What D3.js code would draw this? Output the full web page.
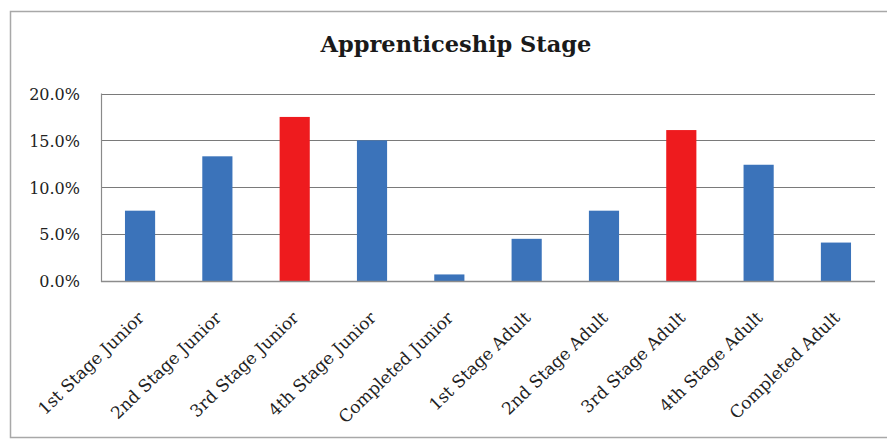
<!DOCTYPE html>
<html>
<head>
<meta charset="utf-8">
<script src="https://cdn.jsdelivr.net/npm/d3@7"></script>
<style>
  html, body { margin: 0; padding: 0; background: #fff; }
  svg { display: block; }
</style>
</head>
<body>
<svg id="chart" width="887" height="444"></svg>
<script>
// Share of apprentices at each stage
const categories = [
  "1st Stage Junior", "2nd Stage Junior", "3rd Stage Junior", "4th Stage Junior", "Completed Junior",
  "1st Stage Adult", "2nd Stage Adult", "3rd Stage Adult", "4th Stage Adult", "Completed Adult"
];
const values = [0.075, 0.133, 0.175, 0.150, 0.007, 0.045, 0.075, 0.161, 0.124, 0.041];
const highlighted = ["3rd Stage Junior", "3rd Stage Adult"];
const yTicks = [0, 0.05, 0.10, 0.15, 0.20];
const title = "Apprenticeship Stage";

const svg = d3.select("#chart");
const W = 887, H = 444;
const plot = { left: 101, right: 875, top: 93.5, bottom: 281 };
const serif = "'DejaVu Serif', 'Liberation Serif', serif";

// outer frame of the chart object
svg.append("rect")
  .attr("x", 10.5).attr("y", 11.5)
  .attr("width", W + 20).attr("height", 426)
  .attr("fill", "#fff")
  .attr("stroke", "#a8a8a8").attr("stroke-width", 1.5);

const x = d3.scaleBand()
  .domain(categories)
  .range([plot.left, plot.right])
  .paddingInner(0.61).paddingOuter(0.31);

const y = d3.scaleLinear()
  .domain([0, 0.20])
  .range([plot.bottom, plot.top]);

// horizontal gridlines
svg.append("g")
  .selectAll("line")
  .data(yTicks)
  .join("line")
  .attr("x1", plot.left).attr("x2", plot.right)
  .attr("y1", d => Math.round(y(d)) + 0.5).attr("y2", d => Math.round(y(d)) + 0.5)
  .attr("stroke", "#7a7a7a").attr("stroke-width", 1.2);

// vertical axis line
svg.append("line")
  .attr("x1", plot.left + 0.5).attr("x2", plot.left + 0.5)
  .attr("y1", plot.top).attr("y2", plot.bottom + 1)
  .attr("stroke", "#8a8a8a").attr("stroke-width", 1.2);

// bars
svg.append("g")
  .selectAll("rect")
  .data(categories.map((c, i) => ({ c, v: values[i] })))
  .join("rect")
  .attr("x", d => x(d.c))
  .attr("width", x.bandwidth())
  .attr("y", d => y(d.v))
  .attr("height", d => y(0) - y(d.v))
  .attr("fill", d => highlighted.includes(d.c) ? "#ee1b1e" : "#3b73ba");

// baseline
svg.append("line")
  .attr("x1", plot.left).attr("x2", plot.right)
  .attr("y1", Math.round(y(0)) + 0.5).attr("y2", Math.round(y(0)) + 0.5)
  .attr("stroke", "#8c8c8c").attr("stroke-width", 1.6);

// y axis labels
const yAxis = d3.axisLeft(y).tickValues(yTicks).tickFormat(d3.format(".1%")).tickSize(0).tickPadding(0);
const gy = svg.append("g").attr("transform", `translate(${plot.left - 21},0)`).call(yAxis);
gy.select(".domain").remove();
gy.selectAll("text")
  .attr("font-family", serif).attr("font-size", 16).attr("fill", "#222")
  .attr("dy", "0.36em");

// x category labels, rotated
const xAxis = d3.axisBottom(x).tickSize(0).tickPadding(0);
const gx = svg.append("g").attr("transform", `translate(0,${plot.bottom})`).call(xAxis);
gx.select(".domain").remove();
gx.selectAll(".tick text")
  .attr("font-family", serif).attr("font-size", 17).attr("fill", "#222")
  .attr("text-anchor", "end")
  .attr("dy", 0).attr("y", 0)
  .attr("transform", "translate(5,38) rotate(-44)");

// title
svg.append("text")
  .attr("x", 456).attr("y", 52)
  .attr("text-anchor", "middle")
  .attr("font-family", serif).attr("font-weight", "bold").attr("font-size", 22.5)
  .attr("fill", "#1a1a1a")
  .text(title);
</script>
</body>
</html>
